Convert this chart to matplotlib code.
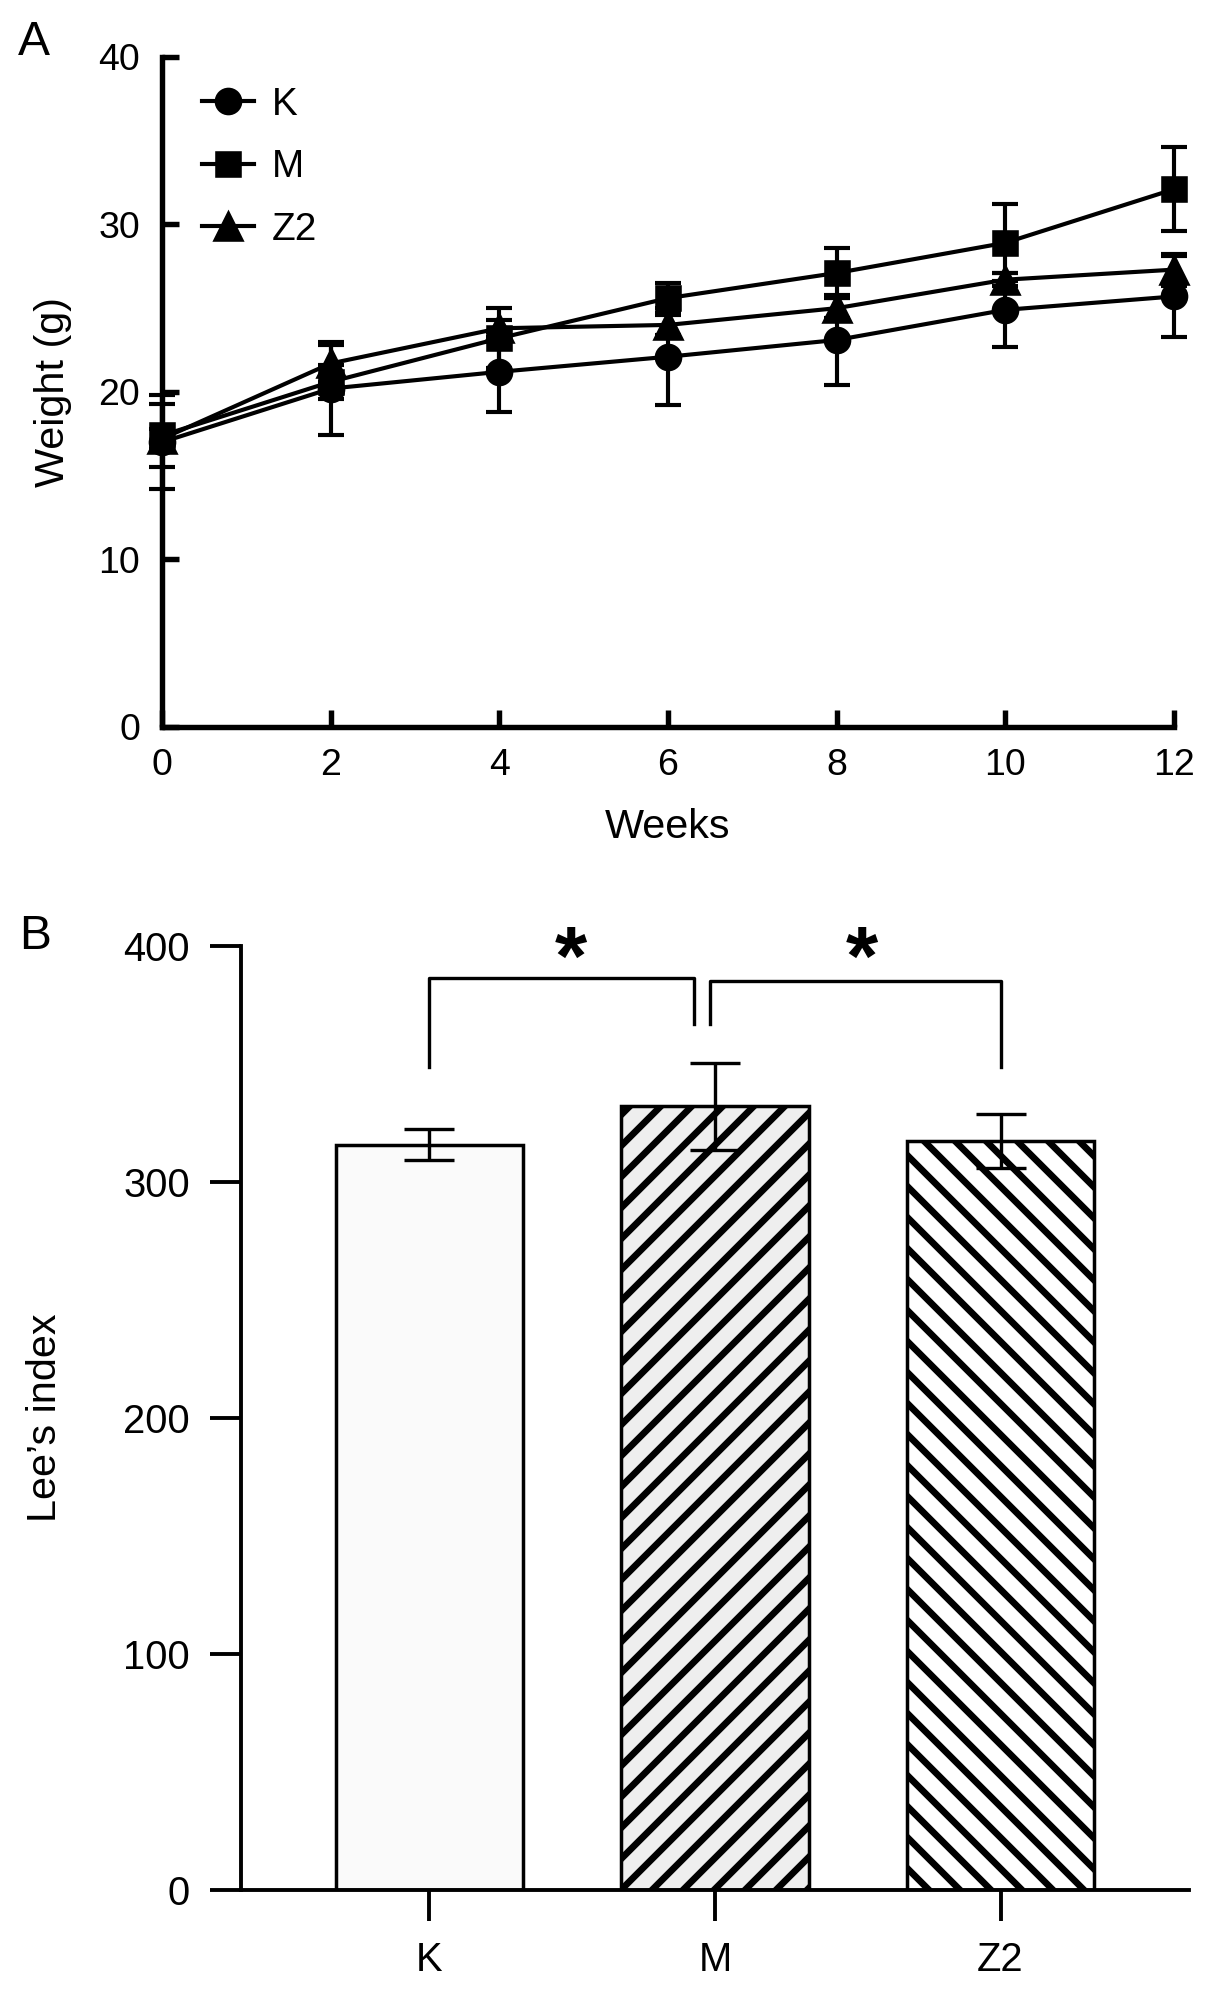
import matplotlib
matplotlib.use("Agg")
import matplotlib.pyplot as plt
import numpy as np

plt.rcParams['font.family'] = ['Liberation Sans', 'DejaVu Sans']
plt.rcParams['hatch.linewidth'] = 2.6

# panel A: body weight over time
weeks = [0, 2, 4, 6, 8, 10, 12]
k_mean = [17.0, 20.2, 21.2, 22.1, 23.1, 24.9, 25.7]
k_sd = [2.8, 2.8, 2.4, 2.9, 2.7, 2.2, 2.4]
m_mean = [17.4, 20.6, 23.2, 25.6, 27.1, 28.9, 32.1]
m_sd = [1.9, 1.0, 1.8, 0.9, 1.5, 2.3, 2.5]
z2_mean = [17.2, 21.7, 23.8, 24.0, 25.0, 26.7, 27.3]
z2_sd = [0.6, 1.1, 0.5, 0.6, 0.6, 0.4, 0.95]

# panel B: Lee's index
groups = ['K', 'M', 'Z2']
lee_mean = [315.8, 332.0, 317.3]
lee_sd = [6.7, 18.3, 11.3]

DPI = 186
fig = plt.figure(figsize=(1205 / DPI, 1989 / DPI), dpi=DPI)

# ---------------- A ----------------
axA = fig.add_axes([0.1344, 0.6345, 0.8398, 0.3369])
series = [
    ('K', k_mean, k_sd, 'o', 9.7),
    ('M', m_mean, m_sd, 's', 9.0),
    ('Z2', z2_mean, z2_sd, '^', 10.5),
]
for name, mean, sd, mk, ms in series:
    axA.errorbar(weeks, mean, yerr=sd, fmt='none', ecolor='black',
                 elinewidth=1.6, capsize=5.2, capthick=1.6, zorder=2,
                 clip_on=False)
for name, mean, sd, mk, ms in series:
    axA.plot(weeks, mean, color='black', lw=1.6, marker=mk, ms=ms,
             mfc='black', mec='black', label=name, zorder=3, clip_on=False)

axA.set_xlim(0, 12)
axA.set_ylim(0, 40)
axA.set_xticks(weeks)
axA.set_yticks([0, 10, 20, 30, 40])
for s in ['top', 'right']:
    axA.spines[s].set_visible(False)
for s in ['left', 'bottom']:
    axA.spines[s].set_linewidth(2.1)
axA.tick_params(direction='in', length=6.5, width=2.1, labelsize=14.5)
axA.tick_params(axis='x', pad=8)
axA.tick_params(axis='y', pad=8.5)
axA.set_xlabel('Weeks', fontsize=16, labelpad=10)
axA.set_ylabel('Weight (g)', fontsize=16, labelpad=10)
axA.legend(loc='upper left', bbox_to_anchor=(0.04, 0.955), frameon=False,
           fontsize=15, handlelength=1.34, handletextpad=0.44,
           labelspacing=0.68, borderaxespad=0, borderpad=0)
fig.text(18 / 1205, 1 - 55 / 1989, 'A', fontsize=18.6, ha='left', va='baseline')

# ---------------- B ----------------
axB = fig.add_axes([0.2, 0.0498, 0.7867, 0.4746])
x = np.arange(len(groups))
faces = ['#fafafa', '#eeeeee', 'white']
hatches = [None, '//', '\\\\']
bars = axB.bar(x, lee_mean, width=0.657, color=faces, edgecolor='black',
               linewidth=1.35, zorder=2)
for b, h in zip(bars, hatches):
    if h:
        b.set_hatch(h)
axB.errorbar(x, lee_mean, yerr=lee_sd, fmt='none', ecolor='black',
             elinewidth=1.3, capsize=9.7, capthick=1.3, zorder=3)

# significance brackets
lw_br = 1.3
axB.plot([0, 0, 0.927, 0.927], [348.8, 386.5, 386.5, 367], color='black', lw=lw_br)
axB.plot([0.981, 0.981, 2, 2], [367, 385, 385, 348.8], color='black', lw=lw_br)
axB.text(0.495, 383.5, '*', fontsize=32, fontweight='bold', ha='center', va='baseline')
axB.text(1.516, 383.5, '*', fontsize=32, fontweight='bold', ha='center', va='baseline')

axB.set_xlim(-0.66, 2.66)
axB.set_ylim(0, 400)
axB.set_xticks(x)
axB.set_xticklabels(groups)
axB.set_yticks([0, 100, 200, 300, 400])
for s in ['top', 'right']:
    axB.spines[s].set_visible(False)
for s in ['left', 'bottom']:
    axB.spines[s].set_linewidth(1.5)
axB.tick_params(direction='out', length=12, width=1.5, labelsize=15.5, pad=7.8)
axB.set_ylabel('Lee\u2019s index', fontsize=16, labelpad=23)
fig.text(19 / 1205, 1 - 949 / 1989, 'B', fontsize=18.6, ha='left', va='baseline')

fig.savefig('out.png', dpi=DPI)
